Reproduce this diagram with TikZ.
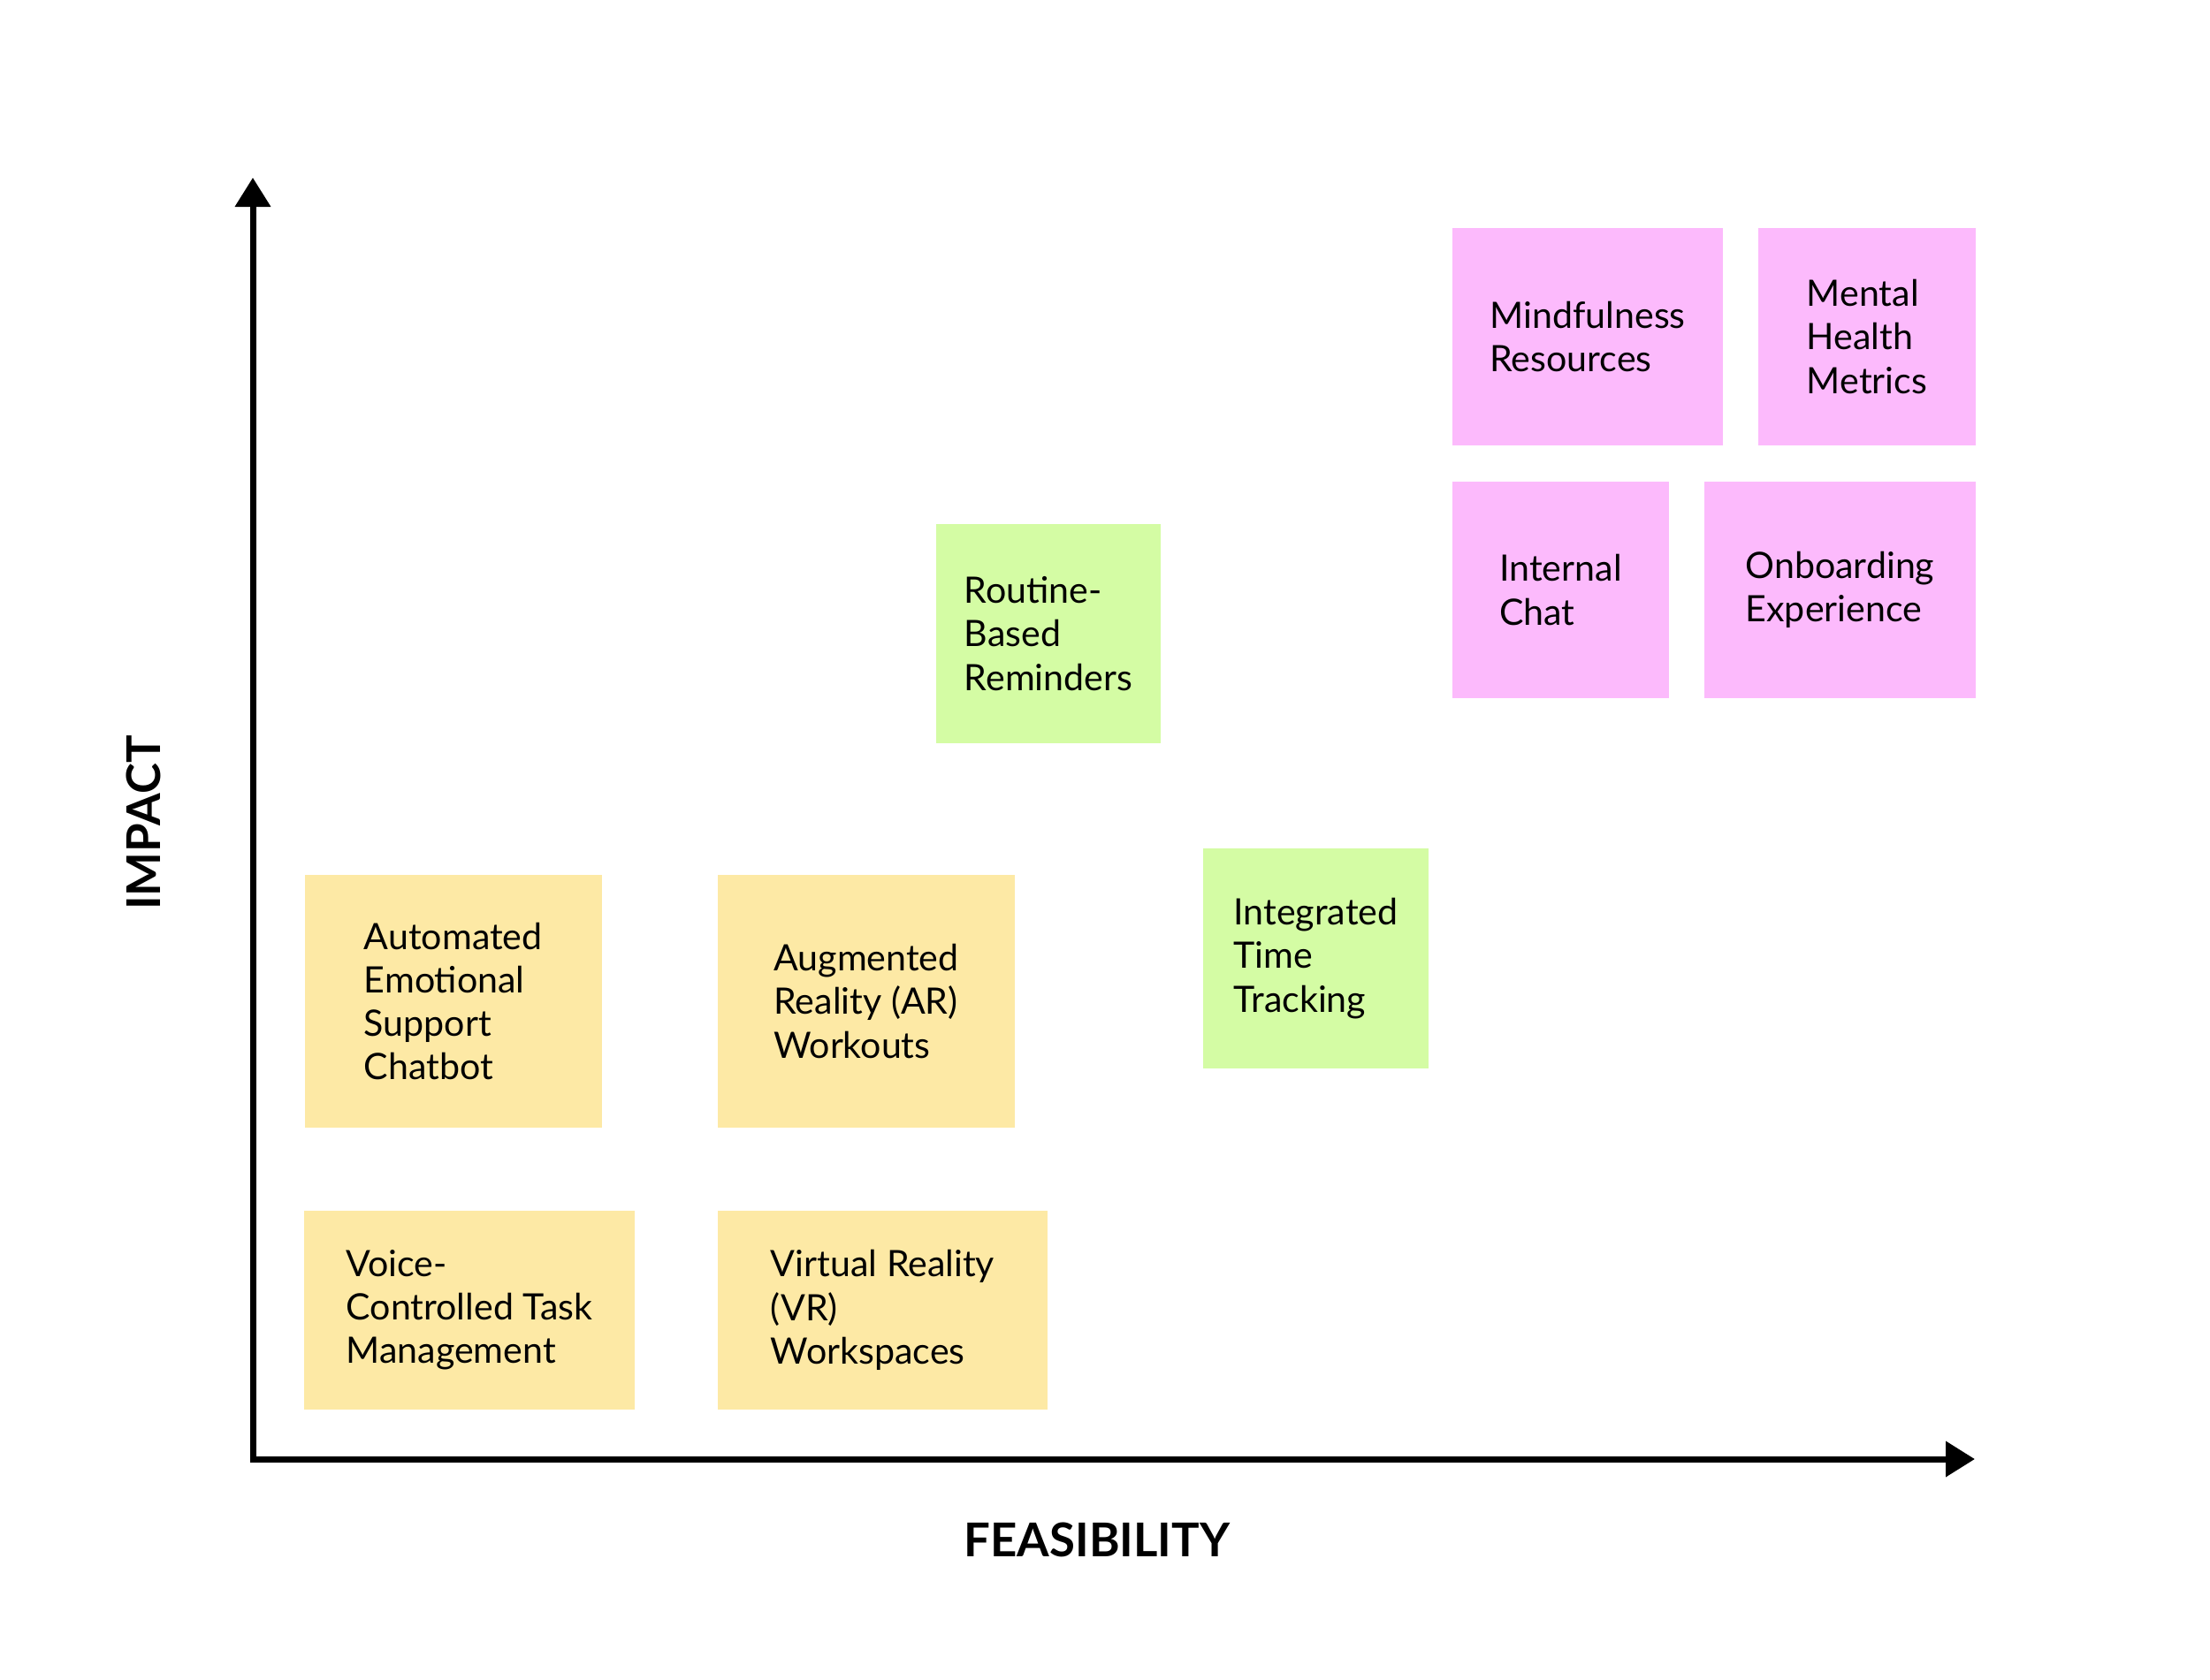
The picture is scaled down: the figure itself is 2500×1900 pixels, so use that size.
\documentclass[tikz,border=0pt]{standalone}
\usepackage{fontspec}
\setmainfont{Lato}
\usepackage{xcolor}
\usetikzlibrary{arrows.meta}

\definecolor{notepink}{HTML}{FCBAFC}
\definecolor{notegreen}{HTML}{D4FCA4}
\definecolor{noteyellow}{HTML}{FDE9A5}

\tikzset{
  card/.style={rectangle, inner sep=0pt, align=left, text=black,
    font=\fontsize{11.7}{14}\selectfont},
  pinkcard/.style={card, fill=notepink},
  greencard/.style={card, fill=notegreen},
  yellowcard/.style={card, fill=noteyellow},
  axislabel/.style={font=\fontsize{15}{18}\bfseries\selectfont},
  axisline/.style={line width=0.7mm, {Triangle[length=3.3mm,width=3.9mm]}-{Triangle[length=3.3mm,width=3.9mm]}}
}

\begin{document}
\begin{tikzpicture}[x=0.1mm,y=-0.1mm]
\useasboundingbox (0,0) rectangle (2500,1900);
% axes
\coordinate (origin) at (286,1651);
\coordinate (ytip) at (286,201);
\coordinate (xtip) at (2234,1651);
\draw[axisline] (ytip) -- (origin) -- (xtip);
\node[axislabel] (feasibility) at (1241,1742) {FEASIBILITY};
\node[axislabel, rotate=90] (impact) at (162.5,931) {IMPACT};
% high impact, high feasibility
\node[pinkcard, minimum width=30.6mm, minimum height=24.6mm] (mindful) at (1796,381) {Mindfulness\\Resources};
\node[pinkcard, minimum width=24.6mm, minimum height=24.6mm] (metrics) at (2112,381) {Mental\\Health\\Metrics};
\node[pinkcard, minimum width=24.5mm, minimum height=24.5mm] (chat) at (1765.5,667.5) {Internal\\Chat};
\node[pinkcard, minimum width=30.7mm, minimum height=24.5mm] (onboard) at (2081.5,667.5) {Onboarding\\Experience};
% middle
\node[greencard, minimum width=25.4mm, minimum height=24.8mm] (routine) at (1186,717) {Routine-\\Based\\Reminders};
\node[greencard, minimum width=25.5mm, minimum height=24.9mm] (tracking) at (1488.5,1084.5) {Integrated\\Time\\Tracking};
% low
\node[yellowcard, minimum width=33.65mm, minimum height=28.6mm] (chatbot) at (512.75,1133) {Automated\\Emotional\\Support\\Chatbot};
\node[yellowcard, minimum width=33.6mm, minimum height=28.6mm] (arworkouts) at (980,1133) {Augmented\\Reality (AR)\\Workouts};
\node[yellowcard, minimum width=37.35mm, minimum height=22.5mm] (voice) at (531,1482.5) {Voice-\\Controlled Task\\Management};
\node[yellowcard, minimum width=37.3mm, minimum height=22.5mm] (vrspaces) at (998.5,1482.5) {Virtual Reality\\(VR)\\Workspaces};
\end{tikzpicture}
\end{document}
